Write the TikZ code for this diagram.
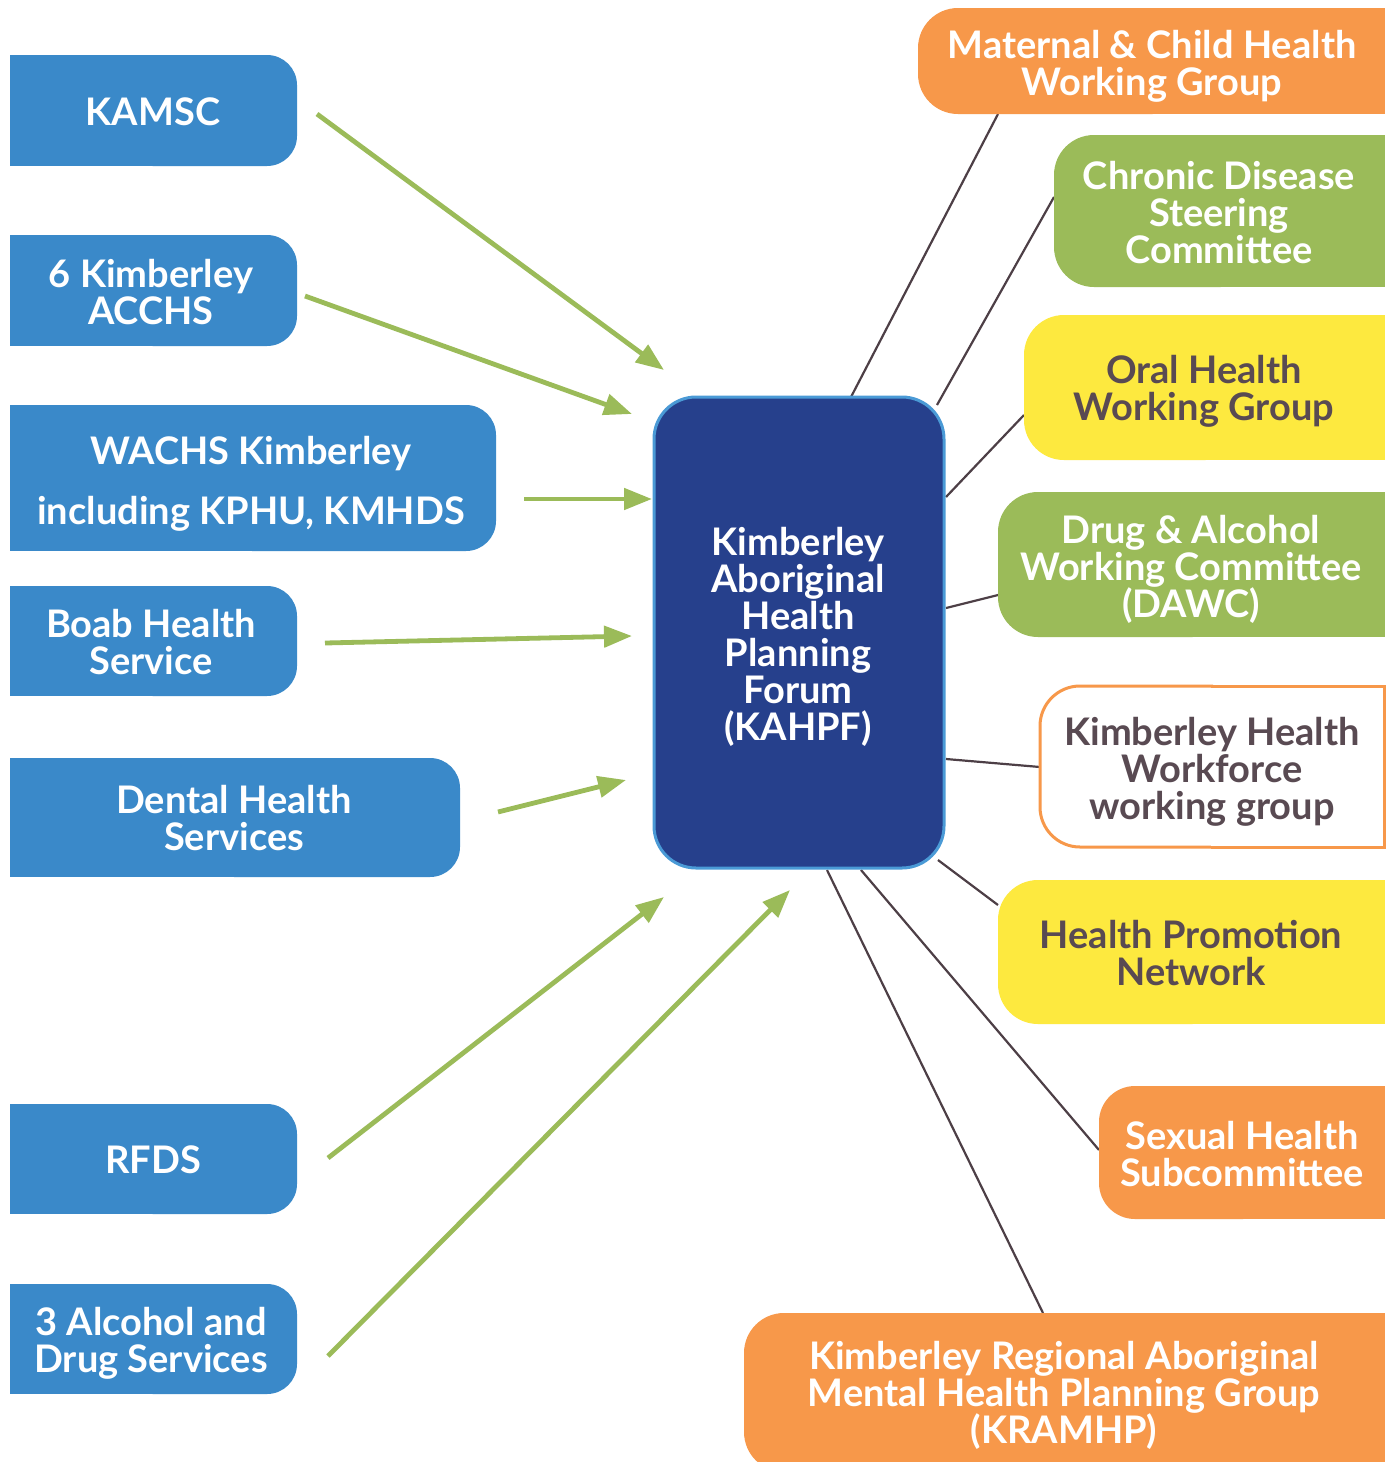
\documentclass[tikz,border=0pt]{standalone}
\usepackage{fontspec}
\setmainfont{Lato}
\usetikzlibrary{arrows.meta}

\definecolor{kblue}{HTML}{3A89C9}
\definecolor{kdark}{HTML}{26408C}
\definecolor{kedge}{HTML}{4A9AD6}
\definecolor{korange}{HTML}{F7984A}
\definecolor{kgreen}{HTML}{9BBB59}
\definecolor{kyellow}{HTML}{FDE93F}
\definecolor{ktext}{HTML}{594A52}
\definecolor{kline}{HTML}{4D3F46}

% box with square left corners and rounded right corners
% #1 paint style, #2 radius, #3 x1, #4 y1, #5 x2, #6 y2
\newcommand\boxRR[6]{%
  \begin{scope}
    \clip ({#3-20},{#4-20}) rectangle ({(#3+#5)/2+1},{#6+20});
    \path[#1] (#3,#4) rectangle (#5,#6);
  \end{scope}
  \begin{scope}
    \clip ({(#3+#5)/2-1},{#4-20}) rectangle ({#5+20},{#6+20});
    \path[#1,rounded corners=#2] (#3,#4) rectangle (#5,#6);
  \end{scope}}
% box with rounded left corners and square right corners
\newcommand\boxRL[6]{%
  \begin{scope}
    \clip ({#3-20},{#4-20}) rectangle ({(#3+#5)/2+1},{#6+20});
    \path[#1,rounded corners=#2] (#3,#4) rectangle (#5,#6);
  \end{scope}
  \begin{scope}
    \clip ({(#3+#5)/2-1},{#4-20}) rectangle ({#5+20},{#6+20});
    \path[#1] (#3,#4) rectangle (#5,#6);
  \end{scope}}

\tikzset{
  lab/.style={text=white, align=center, inner sep=0pt, text depth=0pt,
    font=\bfseries\fontsize{19}{18.5}\selectfont},
  darklab/.style={lab, text=ktext},
  feed/.style={draw=kgreen, line width=2.4pt,
    -{Triangle[length=14pt,width=10.5pt]}},
  link/.style={draw=kline, line width=1.1pt},
}

\begin{document}
\begin{tikzpicture}[x=0.5pt,y=-0.5pt]
\useasboundingbox (0,0) rectangle (1392,1462);
\fill[white] (0,0) rectangle (1392,1462);

% end points of the connectors
\coordinate (f1s) at (317,114);  \coordinate (f1e) at (664,370);
\coordinate (f2s) at (305,296);  \coordinate (f2e) at (632,414);
\coordinate (f3s) at (524,499);  \coordinate (f3e) at (652,499);
\coordinate (f4s) at (325,643);  \coordinate (f4e) at (632,636);
\coordinate (f5s) at (498,812);  \coordinate (f5e) at (626,780);
\coordinate (f6s) at (328,1158); \coordinate (f6e) at (664,897);
\coordinate (f7s) at (328,1356); \coordinate (f7e) at (790,890);

\coordinate (l1s) at (851,397);  \coordinate (l1e) at (998,114);
\coordinate (l2s) at (937,405);  \coordinate (l2e) at (1054,197);
\coordinate (l3s) at (946,497);  \coordinate (l3e) at (1024,415);
\coordinate (l4s) at (946,608);  \coordinate (l4e) at (998,595);
\coordinate (l5s) at (946,759);  \coordinate (l5e) at (1040,767);
\coordinate (l6s) at (938,860);  \coordinate (l6e) at (998,905);
\coordinate (l7s) at (861,870);  \coordinate (l7e) at (1099,1150);
\coordinate (l8s) at (827,870);  \coordinate (l8e) at (1043,1313);

% links from the forum to its working groups
\draw[link] (l1s) -- (l1e);
\draw[link] (l2s) -- (l2e);
\draw[link] (l3s) -- (l3e);
\draw[link] (l4s) -- (l4e);
\draw[link] (l5s) -- (l5e);
\draw[link] (l6s) -- (l6e);
\draw[link] (l7s) -- (l7e);
\draw[link] (l8s) -- (l8e);

% member organisations
\boxRR{fill=kblue}{15pt}{10}{55}{297}{166}
\boxRR{fill=kblue}{15pt}{10}{235}{297}{346}
\boxRR{fill=kblue}{15pt}{10}{405}{496}{551}
\boxRR{fill=kblue}{15pt}{10}{586}{297}{696}
\boxRR{fill=kblue}{15pt}{10}{758}{460}{877}
\boxRR{fill=kblue}{15pt}{10}{1104}{297}{1214}
\boxRR{fill=kblue}{15pt}{10}{1284}{297}{1394}

\node[lab] (kamsc) at (153,112) {KAMSC};
\node[lab] (acchs) at (151,292) {6 Kimberley\\ACCHS};
\node[lab,font=\bfseries\fontsize{19}{30}\selectfont] (wachs) at (251,480)
  {WACHS Kimberley\\including KPHU, KMHDS};
\node[lab] (boab) at (151,642) {Boab Health\\Service};
\node[lab] (dental) at (234,818) {Dental Health\\Services};
\node[lab] (rfds) at (153,1160) {RFDS};
\node[lab] (ads) at (151,1340) {3 Alcohol and\\Drug Services};

% the forum
\draw[fill=kdark, draw=kedge, line width=1.5pt, rounded corners=21pt]
  (654,397) rectangle (944,868);
\node[lab] (kahpf) at (798,634)
  {Kimberley\\Aboriginal\\Health\\Planning\\Forum\\(KAHPF)};

% working groups
\boxRL{fill=korange}{20pt}{918}{8}{1385}{114}
\boxRL{fill=kgreen}{20pt}{1054}{135}{1385}{287}
\boxRL{fill=kyellow}{20pt}{1024}{315}{1385}{460}
\boxRL{fill=kgreen}{20pt}{998}{492}{1385}{637}
\boxRL{fill=white,draw=korange,line width=1.5pt}{20pt}{1040}{686}{1384}{847}
\boxRL{fill=kyellow}{20pt}{998}{880}{1385}{1024}
\boxRL{fill=korange}{18pt}{1099}{1086}{1385}{1219}
\boxRL{fill=korange}{20pt}{744}{1313}{1385}{1472}

\node[lab] (mch) at (1152,63) {Maternal \& Child Health\\Working Group};
\node[lab] (cdsc) at (1219,212) {Chronic Disease\\Steering\\Committee};
\node[darklab] (ohwg) at (1204,388) {Oral Health\\Working Group};
\node[lab] (dawc) at (1191,566) {Drug \& Alcohol\\Working Committee\\(DAWC)};
\node[darklab] (khw) at (1212,768) {Kimberley Health\\Workforce\\working group};
\node[darklab] (hpn) at (1191,953) {Health Promotion\\Network};
\node[lab] (shs) at (1242,1154) {Sexual Health\\Subcommittee};
\node[lab] (kramhp) at (1064,1392)
  {Kimberley Regional Aboriginal\\Mental Health Planning Group\\(KRAMHP)};

% feeds into the forum
\draw[feed] (f1s) -- (f1e);
\draw[feed] (f2s) -- (f2e);
\draw[feed] (f3s) -- (f3e);
\draw[feed] (f4s) -- (f4e);
\draw[feed] (f5s) -- (f5e);
\draw[feed] (f6s) -- (f6e);
\draw[feed] (f7s) -- (f7e);
\end{tikzpicture}
\end{document}
